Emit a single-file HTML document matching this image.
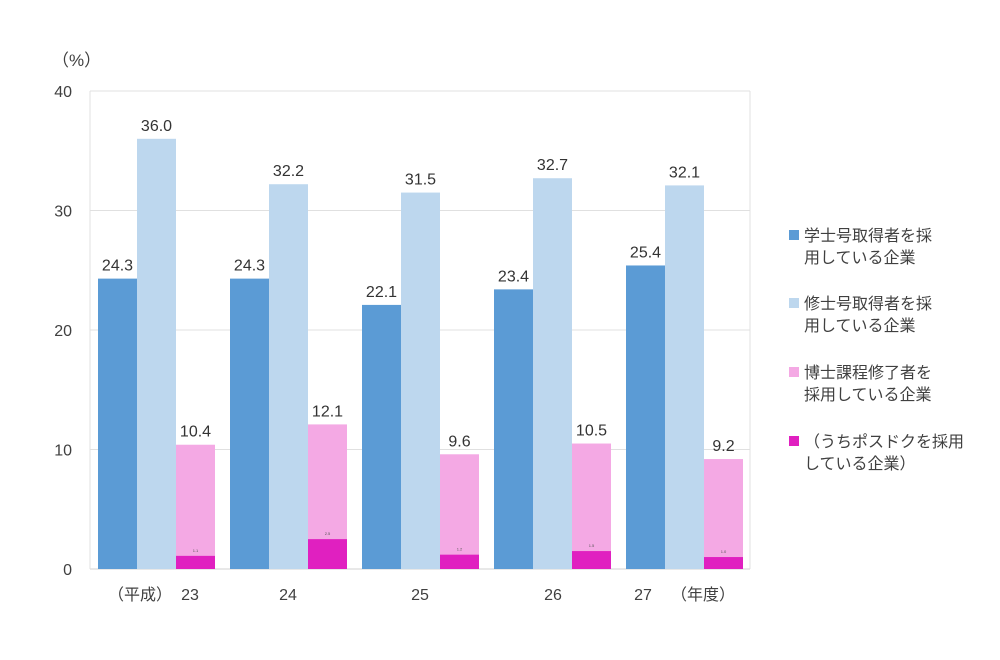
<!DOCTYPE html>
<html><head><meta charset="utf-8"><style>
body{margin:0;background:#fff;}
svg{display:block;font-family:"Liberation Sans","Noto Sans CJK JP",sans-serif;}
</style></head><body>
<svg id="chart" width="1000" height="660"></svg>
<script>
const categories=["23","24","25","26","27"];
const bachelor=[24.3,24.3,22.1,23.4,25.4];
const master=[36.0,32.2,31.5,32.7,32.1];
const doctor=[10.4,12.1,9.6,10.5,9.2];
const postdoc=[1.1,2.5,1.2,1.5,1.0];
const yTicks=[0,10,20,30,40];
const legendLabels=[["学士号取得者を採","用している企業"],["修士号取得者を採","用している企業"],["博士課程修了者を","採用している企業"],["（うちポスドクを採用","している企業）"]];

const NS="http://www.w3.org/2000/svg";
const svg=document.getElementById('chart');
const X0=90,X1=750,Y0=569,Y1=91,YMAX=40;
const y=v=>Y0-(v/YMAX)*(Y0-Y1);
const groupW=(X1-X0)/categories.length;
const barW=39;
const gx=i=>X0+groupW*i+8;
function mk(tag,attrs,text){const e=document.createElementNS(NS,tag);for(const k in attrs)e.setAttribute(k,attrs[k]);if(text!==undefined)e.textContent=text;svg.appendChild(e);return e;}

// gridlines + ticks
yTicks.forEach(t=>{
  const l=mk('line',{x1:X0,x2:X1,y1:y(t),y2:y(t),stroke:t===0?'#d0d0d0':'#e0e0e0','stroke-width':1});
  
  
  const tx=mk('text',{x:72,y:y(t)+6,'text-anchor':'end','font-size':16,fill:'#404040'},String(t));
  
  
});
const yl=mk('line',{x1:X0,x2:X0,y1:Y1,y2:Y0,stroke:'#e0e0e0'});


const yr=mk('line',{x1:X1,x2:X1,y1:Y1,y2:Y0,stroke:'#e0e0e0'});


const unit=mk('text',{x:52,y:66,'font-size':17,fill:'#404040'},'（%）');



const series=[[bachelor,'#5b9bd5',0,'bachelor'],[master,'#bdd7ee',1,'master'],[doctor,'#f4a9e4',2,'doctor']];
categories.forEach((c,i)=>{
  series.forEach(([arr,col,k,nm])=>{
    const x=gx(i)+k*barW;
    const r=mk('rect',{x:x,y:y(arr[i]),width:barW,height:Y0-y(arr[i]),fill:col});
    
    
    const t=mk('text',{x:x+barW/2,y:y(arr[i])-8,'text-anchor':'middle','font-size':16,fill:'#333'},arr[i].toFixed(1));
    
    
  });
  const px=gx(i)+2*barW;
  const r=mk('rect',{x:px,y:y(postdoc[i]),width:barW,height:Y0-y(postdoc[i]),fill:'#e020c0'});
  
  
  const t=mk('text',{x:px+barW/2,y:y(postdoc[i])-4,'text-anchor':'middle','font-size':4,fill:'#555'},postdoc[i].toFixed(1));
  
  
});
// x labels
const xlx=[190,288,420,553,643];
categories.forEach((c,i)=>{
  const t=mk('text',{x:xlx[i],y:600,'text-anchor':'middle','font-size':16,fill:'#404040'},c);
  
  
});
const h1=mk('text',{x:140,y:600,'text-anchor':'middle','font-size':16,fill:'#404040'},'（平成）');


const h2=mk('text',{x:703,y:600,'text-anchor':'middle','font-size':16,fill:'#404040'},'（年度）');



// legend
const lcol=['#5b9bd5','#bdd7ee','#f4a9e4','#e020c0'];
const lnames=['bachelor','master','doctor','postdoc'];
const ly=[235,303,372,441];
legendLabels.forEach((lines,k)=>{
  const s=mk('rect',{x:789,y:ly[k]-5,width:10,height:10,fill:lcol[k]});
  
  
  lines.forEach((ln,j)=>{
    const t=mk('text',{x:804,y:ly[k]+6+j*22,'font-size':16,fill:'#404040'},ln);
    
    
  });
});
</script>
</body></html>
